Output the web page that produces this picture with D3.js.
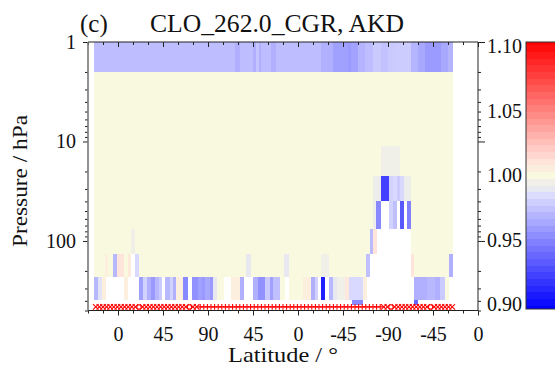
<!DOCTYPE html>
<html>
<head>
<meta charset="utf-8">
<script src="https://cdn.jsdelivr.net/npm/d3@7"></script>
<style>
  body { margin: 0; background: #fff; }
  svg text { font-family: "Liberation Serif", "Times New Roman", serif; fill: #111; }
</style>
</head>
<body>
<div id="chart"></div>
<script>
// pressure edges (hPa) of the rows, top to bottom
const levelEdges = [1, 2, 11.2, 22.4, 40, 76, 136, 232, 395, 445];

// each row: [orbit angle from, orbit angle to, ratio], null = no data
const row0 = [[-24,117,0.973],[117,122,0.968],[122,135,0.973],[135,138,0.968],[138,141,0.976],[141,143,0.968],
  [143,153,0.973],[153,158,0.968],[158,203,0.973],[203,215,0.968],[215,230,0.962],[230,233,0.960],[233,240,0.963],
  [240,247,0.970],[247,255,0.973],[255,263,0.978],[263,270,0.975],[270,278,0.978],[278,293,0.979],[293,300,0.970],
  [300,307,0.965],[307,323,0.960],[323,330,0.965],[330,335,0.970]];
const row1 = [[-24,335,1.0]];
const row2 = [[-24,263,1.0],[263,282,0.995],[282,335,1.0]];
const row3 = [[-24,255,1.0],[255,263,0.993],[263,271,0.925],[271,275,0.981],[275,279,0.984],[279,282,0.978],
  [282,286,0.984],[286,293,0.993],[293,335,1.0]];
const row4 = [[-24,255,1.0],[255,258,0.993],[258,263,0.953],[263,271,null],[271,275,0.981],[275,279,0.974],
  [279,282,null],[282,286,0.934],[286,289,null],[289,293,0.950],[293,335,1.0]];
const row5 = [[-24,13,1.0],[13,17,0.995],[17,252,1.0],[252,255,0.972],[255,259,1.01],[259,293,null],[293,335,1.0]];
const row6 = [[-24,-13,1.0],[-13,-10,1.005],[-10,-5,1.0],[-5,-1,0.971],[-1,6,1.01],[6,10,1.0],[10,13,1.007],
  [13,17,null],[17,21,0.984],[21,128,1.0],[128,133,0.99],[133,166,1.0],[166,171,0.99],[171,203,1.0],
  [203,211,0.995],[211,248,1.0],[248,252,0.974],[252,293,null],[293,296,1.01],[296,331,1.0],[331,335,0.968]];
const row7 = [[-24,-20,0.971],[-20,-16,0.988],[-16,-12,1.005],[-12,6,null],[6,10,1.005],[10,21,null],
  [21,25,0.962],[25,29,0.981],[29,33,0.968],[33,37,0.959],[37,41,0.971],[41,44,0.978],[44,47,null],
  [47,52,0.971],[52,55,0.981],[55,58,0.968],[58,65,1.005],[65,70,0.953],[70,74,null],[74,80,0.956],
  [80,84,0.962],[84,87,0.959],[87,92,0.965],[92,95,0.959],[95,99,0.99],[99,106,1.0],[106,113,null],
  [113,122,1.005],[122,126,0.968],[126,135,null],[135,140,0.968],[140,147,0.956],[147,152,0.978],
  [152,155,0.962],[155,162,0.974],[162,167,1.0],[167,171,null],[171,185,1.0],[185,193,1.005],
  [193,197,0.968],[197,200,0.981],[200,203,null],[203,207,0.912],[207,211,null],[211,215,0.971],
  [215,219,0.99],[219,227,0.995],[227,231,1.008],[231,245,0.984],[245,249,1.005],[249,296,null],
  [296,309,0.968],[309,317,0.971],[317,322,0.968],[322,327,0.978],[327,331,1.0]];
const row8 = [[234,245,0.953],[296,300,0.940]];
const rows = [row0, row1, row2, row3, row4, row5, row6, row7, row8];

// one flag marker per profile column (x, + or o)
const markerStart = -24, markerStep = 3.6, markerLevel = 460;
const markerCodes = ("xxxxxxxxxxxxoxxxxxxxxxxxxxoxx" +
  "+++++++++++++++++++++++++++++++++++++++++++++++++++" +
  "xxoxxxxxxxxxxoxxxxxx").split("");

const xMajor = [0, 45, 90, 135, 180, 225, 270, 315, 360];
const latLabels = ["0", "45", "90", "45", "0", "-45", "-90", "-45", "0"];
const xMinor = [-30, -15, 15, 30, 60, 75, 105, 120, 150, 165, 195, 210, 240, 255, 285, 300, 330, 345];
const yMajor = [1, 10, 100];
const yMinor = [2,3,4,5,6,7,8,9,20,30,40,50,60,70,80,90,200,300,400,500];
const cbTicks = [1.10, 1.05, 1.00, 0.95, 0.90];

const colorStops = [0.9, 0.985, 0.99, 0.995, 1.0, 1.01, 1.1];
const colorValues = ["#0000ff", "#dcdcff", "#e8e8f0", "#f0f0e8", "#f9f9e0", "#ffe4dc", "#ff0000"];

const width = 555, height = 366;
const pLeft = 88, pRight = 478, pTop = 42, pBottom = 310.5;

const svg = d3.select("#chart").append("svg")
  .attr("width", width).attr("height", height);

const x = d3.scaleLinear().domain([-30, 360]).range([pLeft, pRight]);
const y = d3.scaleLog().domain([1, 500]).range([pTop, pBottom]);
const color = d3.scaleLinear().domain(colorStops).range(colorValues).clamp(true);

// heatmap cells
rows.forEach((row, r) => {
  svg.append("g").attr("shape-rendering", "crispEdges")
    .selectAll("rect")
    .data(row.filter(d => d[2] !== null))
    .enter().append("rect")
    .attr("x", d => x(d[0]))
    .attr("width", d => x(d[1]) - x(d[0]))
    .attr("y", y(levelEdges[r]))
    .attr("height", y(levelEdges[r + 1]) - y(levelEdges[r]))
    .attr("fill", d => color(d[2]));
});

// flag markers
const markers = svg.append("g").attr("stroke", "#ff0000").attr("stroke-width", 1.1).attr("fill", "none");
markerCodes.forEach((c, i) => {
  const cx = x(markerStart + markerStep * (i + 0.5)), cy = y(markerLevel), s = 2.8;
  if (c === "x") {
    markers.append("path").attr("d", `M${cx - s},${cy - s}L${cx + s},${cy + s}M${cx - s},${cy + s}L${cx + s},${cy - s}`);
  } else if (c === "+") {
    markers.append("path").attr("d", `M${cx - s},${cy}L${cx + s},${cy}M${cx},${cy - s}L${cx},${cy + s}`);
  }
});
markerCodes.forEach((c, i) => {
  if (c === "o") {
    markers.append("circle").attr("cx", x(markerStart + markerStep * (i + 0.5))).attr("cy", y(markerLevel))
      .attr("r", 2.2).attr("fill", "#fff").attr("stroke", "#ff0000");
  }
});

function styleAxis(g) {
  g.select(".domain").remove();
  g.attr("font-family", "Liberation Serif, serif").attr("font-size", 20).attr("color", "#222");
}

// bottom axis
svg.append("g").attr("transform", `translate(0,${pBottom})`)
  .call(d3.axisBottom(x).tickValues(xMajor).tickFormat((d, i) => latLabels[i]).tickSize(5).tickPadding(11))
  .call(styleAxis);
svg.append("g").attr("transform", `translate(0,${pBottom})`)
  .call(d3.axisBottom(x).tickValues(xMinor).tickFormat("").tickSize(3)).call(styleAxis);
// top axis, ticks pointing inward
svg.append("g").attr("transform", `translate(0,${pTop})`)
  .call(d3.axisBottom(x).tickValues(xMajor).tickFormat("").tickSize(5)).call(styleAxis);
svg.append("g").attr("transform", `translate(0,${pTop})`)
  .call(d3.axisBottom(x).tickValues(xMinor).tickFormat("").tickSize(3)).call(styleAxis);
// left axis
svg.append("g").attr("transform", `translate(${pLeft},0)`)
  .call(d3.axisLeft(y).tickValues(yMajor).tickFormat(d3.format("d")).tickSize(5).tickPadding(7))
  .call(styleAxis);
svg.append("g").attr("transform", `translate(${pLeft},0)`)
  .call(d3.axisLeft(y).tickValues(yMinor).tickFormat("").tickSize(3)).call(styleAxis);
// right axis
svg.append("g").attr("transform", `translate(${pRight},0)`)
  .call(d3.axisRight(y).tickValues(yMajor).tickFormat("").tickSize(7)).call(styleAxis);
svg.append("g").attr("transform", `translate(${pRight},0)`)
  .call(d3.axisRight(y).tickValues(yMinor).tickFormat("").tickSize(3)).call(styleAxis);

// frame
svg.append("path").attr("d", `M${pLeft},${pTop}H${pRight}V${pBottom}H${pLeft}`)
  .attr("fill", "none").attr("stroke", "#222").attr("stroke-width", 1);
svg.append("line").attr("x1", pLeft).attr("x2", pLeft).attr("y1", pTop).attr("y2", pBottom)
  .attr("stroke", "#777").attr("stroke-width", 1.6);

// colour bar
const cb = d3.scaleLinear().domain([0.9, 1.1]).range([309, 42]);
const cbLabel = d3.scaleLinear().domain([0.9, 1.1]).range([304, 46]);
const bands = d3.range(0, 41).map(k => 0.9 + k * 0.005);
svg.append("g").attr("shape-rendering", "crispEdges")
  .selectAll("rect").data(bands).enter().append("rect")
  .attr("x", 526).attr("width", 40)
  .attr("y", d => cb(Math.min(1.1, d + 0.0025)))
  .attr("height", d => cb(Math.max(0.9, d - 0.0025)) - cb(Math.min(1.1, d + 0.0025)))
  .attr("fill", d => color(d));
svg.append("rect").attr("x", 526).attr("y", cb(1.1)).attr("width", 40).attr("height", cb(0.9) - cb(1.1))
  .attr("fill", "none").attr("stroke", "#333").attr("stroke-width", 1);
svg.append("g").selectAll("text").data(cbTicks).enter().append("text")
  .attr("x", 487).attr("y", d => cbLabel(d)).attr("dy", "0.35em")
  .attr("font-size", 20).text(d => d.toFixed(2));

// titles
svg.append("text").attr("x", 80).attr("y", 32).attr("font-size", 25).text("(c)");
svg.append("text").attr("x", 150).attr("y", 32).attr("font-size", 25)
  .attr("textLength", 254).attr("lengthAdjust", "spacingAndGlyphs").text("CLO_262.0_CGR, AKD");
svg.append("text").attr("transform", "translate(27,181) rotate(-90)").attr("text-anchor", "middle")
  .attr("font-size", 21).attr("textLength", 132).attr("lengthAdjust", "spacingAndGlyphs").text("Pressure / hPa");
svg.append("text").attr("x", 283).attr("y", 362).attr("text-anchor", "middle")
  .attr("font-size", 21).attr("textLength", 110).attr("lengthAdjust", "spacingAndGlyphs").text("Latitude / °");
</script>
</body>
</html>
